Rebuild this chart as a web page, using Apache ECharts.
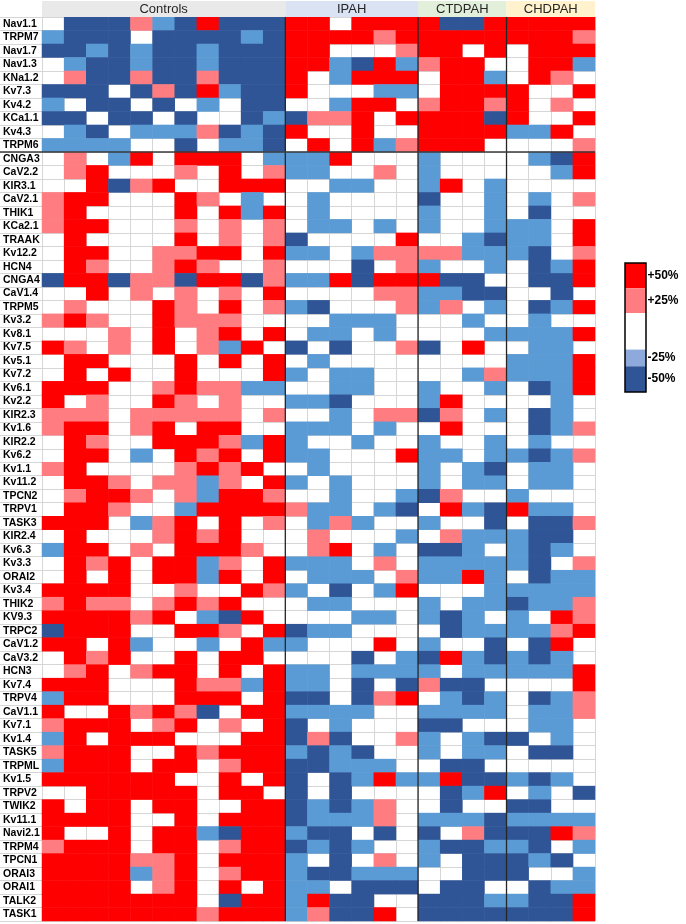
<!DOCTYPE html>
<html>
<head>
<meta charset="utf-8">
<script src="https://cdn.jsdelivr.net/npm/echarts@6/dist/echarts.min.js"></script>
<style>
html,body{margin:0;padding:0;background:#fff;}
#c{width:686px;height:924px;}
</style>
</head>
<body>
<div id="c"></div>
<script>
(function(){
// Scale: 2 = +50%, 1 = +25%, 0 = no change, -1 = -25%, -2 = -50%
const rowLabels = ['Nav1.1','TRPM7','Nav1.7','Nav1.3','KNa1.2','Kv7.3','Kv4.2','KCa1.1','Kv4.3','TRPM6',
'CNGA3','CaV2.2','KIR3.1','CaV2.1','THIK1','KCa2.1','TRAAK','Kv12.2','HCN4','CNGA4',
'CaV1.4','TRPM5','Kv3.2','Kv8.1','Kv7.5','Kv5.1','Kv7.2','Kv6.1','Kv2.2','KIR2.3',
'Kv1.6','KIR2.2','Kv6.2','Kv1.1','Kv11.2','TPCN2','TRPV1','TASK3','KIR2.4','Kv6.3',
'Kv3.3','ORAI2','Kv3.4','THIK2','KV9.3','TRPC2','CaV1.2','CaV3.2','HCN3','Kv7.4',
'TRPV4','CaV1.1','Kv7.1','Kv1.4','TASK5','TRPML','Kv1.5','TRPV2','TWIK2','Kv11.1',
'Navi2.1','TRPM4','TPCN1','ORAI3','ORAI1','TALK2','TASK1'];

const groupNames = ['Controls','IPAH','CTDPAH','CHDPAH'];
const legendLabels = ['+50%','+25%','','-25%','-50%'];
const legendValues = [2,1,0,-1,-2];

const controls = [
[0,-2,-2,-2,1,-1,-2,2,-2,-2,-2],
[-1,-2,-2,-2,0,-2,-2,-2,-2,-1,-2],
[-2,-2,-1,-2,-1,-2,-2,-1,-2,-2,-2],
[0,-1,-2,-2,-1,-2,-2,-1,-2,-2,-2],
[0,1,-2,-2,1,-2,-2,1,-2,-2,-2],
[-2,-2,-2,0,-2,1,-2,2,-1,-2,-2],
[-1,0,-2,-2,0,-2,0,-1,0,-2,-2],
[-2,-2,0,-2,-2,0,-2,0,0,-2,-1],
[0,-1,-2,0,-1,-1,-1,1,-2,-1,-2],
[-1,-1,-1,-1,0,0,-2,0,-1,-1,-2],
[0,1,0,-1,2,0,2,2,2,0,-1],
[0,1,2,0,0,0,1,0,2,0,1],
[0,0,2,-2,1,2,0,0,2,2,2],
[1,2,2,0,0,0,2,1,0,-1,0],
[1,2,0,0,0,0,2,0,2,-1,2],
[1,2,2,0,0,0,1,0,1,0,1],
[0,2,0,0,0,0,2,0,1,0,1],
[0,2,2,0,0,1,1,2,2,0,2],
[0,2,1,0,0,1,2,1,0,0,1],
[-2,2,2,-2,1,1,-2,2,2,-2,1],
[0,0,2,0,1,0,1,0,1,0,2],
[0,1,0,0,0,2,1,0,2,0,1],
[1,2,1,0,0,2,1,1,1,0,0],
[0,0,0,1,0,2,0,1,2,0,2],
[2,1,0,1,0,2,0,1,-1,2,0],
[0,2,2,0,0,0,2,0,2,0,2],
[0,2,0,2,0,0,2,0,0,0,2],
[2,2,2,0,0,1,2,1,1,-1,-1],
[2,0,1,0,0,2,1,0,1,0,0],
[1,1,1,0,1,1,1,1,1,0,1],
[1,2,2,0,1,2,0,2,2,0,0],
[0,2,1,0,0,2,2,2,1,-1,2],
[0,2,2,0,-1,0,2,1,2,0,2],
[1,2,0,0,0,0,1,2,1,2,0],
[0,2,2,1,0,1,1,-1,1,0,2],
[0,1,2,2,1,0,1,-1,2,2,1],
[0,2,2,1,0,0,-1,2,2,2,2],
[2,2,2,0,-1,1,2,0,2,0,1],
[0,2,0,0,0,1,2,1,2,0,0],
[-1,2,2,0,1,0,2,2,2,1,0],
[0,2,1,2,0,2,2,-1,1,0,2],
[0,2,0,2,0,2,2,-1,2,0,2],
[2,2,2,2,0,0,1,0,0,2,1],
[1,2,1,1,0,1,2,1,2,0,0],
[2,2,2,2,1,2,0,-1,-2,2,0],
[-2,2,2,2,0,0,2,2,1,0,2],
[2,2,0,2,-1,0,0,-1,0,2,-1],
[0,2,1,2,0,0,2,0,2,2,0],
[0,1,2,0,1,2,2,0,2,0,2],
[2,2,2,0,0,0,2,1,1,-1,2],
[-1,2,2,0,0,0,2,2,2,0,2],
[2,0,0,2,1,2,1,-2,0,2,2],
[1,2,2,2,0,1,2,0,1,0,2],
[-1,2,0,2,2,2,0,0,0,2,2],
[1,2,2,2,0,0,2,1,2,2,2],
[-1,2,2,2,0,2,2,0,1,2,2],
[2,2,2,2,2,2,0,0,2,0,2],
[0,0,2,2,2,2,2,0,2,2,0],
[2,0,2,2,0,2,2,0,0,2,2],
[2,2,2,2,0,0,2,0,2,2,2],
[2,0,0,2,0,2,2,-1,-2,2,2],
[1,2,2,2,0,2,2,0,1,2,2],
[2,2,2,2,1,1,2,0,2,2,2],
[2,2,2,2,-1,1,2,0,1,2,2],
[2,2,2,2,0,1,2,0,2,0,2],
[2,2,2,2,2,2,2,0,-2,2,2],
[2,2,2,2,2,2,2,1,2,2,2]
];

const ipah = [
[2,2,0,2,2,2],[2,2,2,2,1,2],[2,2,0,0,0,1],[2,2,-1,-2,2,-1],[2,0,-1,2,2,2],
[2,0,0,0,-1,-1],[0,0,-1,2,2,0],[-2,1,1,2,0,2],[2,0,0,2,0,0],[0,2,0,2,-1,1],
[-1,-1,2,0,0,0],[-1,-1,0,0,1,0],[0,0,-1,-1,0,0],[0,-1,0,0,0,0],[0,-1,0,0,0,0],
[0,-1,-1,0,-1,0],[-2,0,0,0,0,2],[-1,-1,0,-1,1,1],[0,0,0,-2,0,1],[-1,-1,2,-2,2,2],
[0,0,0,0,1,1],[-1,-2,0,0,0,1],[0,0,-1,-1,-1,0],[0,-1,-1,0,-1,0],[-2,0,-2,0,0,1],
[0,-1,0,0,0,0],[-1,0,-1,-1,0,0],[0,0,-1,-1,0,0],[-1,-1,-2,0,0,0],[0,0,-1,0,1,1],
[-1,-1,-1,0,-1,0],[-1,0,0,-1,0,0],[-1,-1,0,0,0,2],[0,-1,0,0,0,0],[-1,0,-1,0,0,0],
[0,0,-1,0,0,-1],[1,-1,-1,0,-1,-2],[0,-1,1,-1,0,0],[0,1,0,0,0,-1],[0,1,2,0,-1,0],
[-1,-1,-1,0,1,0],[0,-1,-1,-1,0,1],[-1,0,-2,0,-1,2],[0,-1,-1,0,0,0],[0,0,0,-1,-1,0],
[-2,-1,-1,0,0,0],[-1,0,0,0,2,0],[0,0,0,-2,0,-1],[-1,-1,0,-1,-1,-1],[-1,-1,0,-2,0,-2],
[-2,-2,0,-2,1,2],[-1,-1,-1,-1,0,0],[-2,0,-1,0,0,0],[-2,1,-2,0,0,1],[-1,-2,-1,-2,0,0],
[-2,-2,-1,-1,-1,0],[-2,0,-2,-1,2,-1],[-2,0,-2,0,0,0],[-2,-1,-2,-1,1,0],[-2,-1,-1,-1,1,0],
[-1,-2,-2,0,-2,0],[-2,-1,-2,-1,0,0],[-1,0,-2,0,1,0],[-1,-2,-2,-1,-1,-1],[-1,-1,0,-2,-2,-2],
[-1,2,-2,-2,0,0],[-1,1,-2,-2,2,0]
];

const ctdpah = [
[2,-2,-2,2],[2,2,2,2],[2,2,0,2],[1,2,2,0],[0,2,2,-1],
[0,2,2,2],[1,2,2,1],[2,2,2,-2],[2,2,2,2],[2,2,2,0],
[-1,0,0,0],[-1,0,0,0],[-1,2,0,-1],[-2,0,0,-1],[-1,0,0,-1],
[-1,0,0,-1],[0,0,-1,-2],[1,1,-1,-1],[-1,0,0,-1],[2,-2,-2,0],
[-1,-1,-2,-2],[-1,1,0,-1],[0,0,-1,0],[0,0,0,-1],[-2,0,2,0],
[0,0,0,0],[0,0,-1,1],[-1,0,0,-1],[-1,2,0,0],[-2,1,0,-1],
[0,2,0,0],[-1,0,0,-1],[-1,-1,0,-1],[-1,0,-1,-2],[-1,0,-1,-1],
[-2,1,0,0],[0,2,-1,-2],[-1,0,0,-2],[0,1,-1,-1],[-2,-2,-1,0],
[-1,-1,-1,-1],[-1,-1,2,-1],[0,0,0,-1],[-1,0,-1,-1],[-1,-2,-1,0],
[0,-2,-1,-1],[-1,0,0,-2],[-2,2,-1,-2],[-1,0,-1,-1],[1,-2,-2,0],
[0,-1,-2,-1],[-1,-1,-1,-1],[-2,-2,0,0],[-1,0,-1,-2],[-1,0,-1,-1],
[0,-2,-2,0],[-1,2,-2,-2],[0,-2,-1,2],[0,-2,0,0],[-1,-1,-1,-2],
[-2,0,1,-2],[-1,-2,-2,-1],[-1,0,-2,-2],[0,0,-2,-2],[0,-2,-2,0],
[-2,-2,-2,-1],[-2,-2,-2,-2]
];

const chdpah = [
[2,2,2,2],[2,2,2,1],[0,2,2,2],[0,2,2,-1],[0,2,1,0],
[2,0,0,2],[2,0,1,0],[2,0,0,2],[-1,-1,2,0],[0,0,0,1],
[0,-1,-2,2],[0,0,-1,2],[0,0,0,0],[0,-1,0,1],[0,-2,0,0],
[-1,-1,0,2],[-1,-1,0,2],[-1,-2,0,1],[0,-2,-1,2],[0,-2,-2,2],
[0,0,-2,0],[0,-2,-1,2],[0,-1,0,0],[-1,-1,-1,2],[0,-1,-1,0],
[-1,-1,-1,2],[-1,-1,-1,2],[0,-2,-1,2],[0,0,-1,0],[0,-2,-1,0],
[0,-2,-1,1],[0,-1,0,0],[-1,-2,-1,1],[0,-1,-1,0],[0,-1,-1,0],
[-1,0,0,0],[2,-1,-1,0],[0,-2,-2,1],[-1,-2,-2,0],[-1,-2,-1,0],
[-1,-2,0,1],[0,-2,-1,-1],[-1,-1,-1,-1],[-2,-1,-1,1],[-1,0,2,1],
[-1,-1,1,2],[0,-2,2,0],[-1,-2,-1,0],[-1,-1,-1,2],[0,0,0,2],
[0,-2,-1,1],[0,-1,-1,1],[0,-1,-1,0],[-2,0,-1,0],[0,-2,-2,0],
[0,0,0,0],[-1,-2,-1,0],[0,-1,0,-2],[-2,-2,0,0],[-1,-1,-1,-1],
[-2,-2,2,1],[-1,-2,0,-1],[-2,-1,-2,0],[-2,0,0,-1],[0,-2,-1,-1],
[-1,-2,-2,2],[-2,-2,-2,2]
];

const groups = [controls, ipah, ctdpah, chdpah];
const groupStarts = [];
const columns = [];
const data = [];
let offset = 0;
groups.forEach((g, gi) => {
  const n = g[0].length;
  groupStarts.push(offset);
  for (let c = 0; c < n; c++) columns.push(groupNames[gi] + ' ' + (c + 1));
  g.forEach((row, r) => {
    row.forEach((v, c) => data.push([offset + c, r, v]));
  });
  offset += n;
});
groupStarts.push(offset);

const cellColors = {'2':'#FF0000','1':'#FF7C80','0':'rgba(255,255,255,0)','-1':'#5B9BD5','-2':'#2F5597'};
const legendColors = ['#FF0000','#FF7C80','#FFFFFF','#8EA9DB','#2F5597'];
const headerColors = ['#E9E9E9','#DAE3F3','#E2EFDA','#FFF2CC'];

const chart = echarts.init(document.getElementById('c'), null, {renderer:'canvas'});
const gridLine = '#D6D6D6';
chart.setOption({
  animation: false,
  backgroundColor: '#ffffff',
  grid: {left: 42, right: 91, top: 17, bottom: 3, containLabel: false},
  xAxis: {
    type: 'category', data: columns, position: 'top',
    axisLabel: {show: false}, axisTick: {show: false}, axisLine: {show: false},
    splitLine: {show: true, interval: 0, lineStyle: {color: gridLine, width: 1}}
  },
  yAxis: {
    type: 'category', data: rowLabels, inverse: true,
    axisLabel: {interval: 0, margin: 39, align: 'left', fontFamily: 'Liberation Sans, Arial, sans-serif',
      fontWeight: 'bold', fontSize: 10.5, color: '#000'},
    axisTick: {show: true, interval: 0, length: 42, lineStyle: {color: gridLine}},
    axisLine: {show: true, lineStyle: {color: gridLine}},
    splitLine: {show: true, interval: 0, lineStyle: {color: gridLine, width: 1}}
  },
  visualMap: {
    type: 'piecewise', show: false, dimension: 2,
    pieces: legendValues.map(v => ({value: v, color: cellColors[String(v)]}))
  },
  series: [{
    type: 'heatmap', data: data,
    itemStyle: {borderWidth: 0},
    emphasis: {disabled: true},
    progressive: 0
  }]
});

// decorations derived from the axes
const p0 = chart.convertToPixel({gridIndex: 0}, [0, 0]);
const p1 = chart.convertToPixel({gridIndex: 0}, [1, 1]);
const bw = p1[0] - p0[0];
const rh = p1[1] - p0[1];
const colLeft = i => p0[0] - bw / 2 + i * bw;
const gTop = p0[1] - rh / 2;
const gBottom = gTop + rowLabels.length * rh;
const gRight = colLeft(columns.length);

const gfx = [];
groupNames.forEach((name, gi) => {
  const x0 = colLeft(groupStarts[gi]), x1 = colLeft(groupStarts[gi + 1]);
  gfx.push({type: 'rect', shape: {x: x0, y: 1, width: x1 - x0, height: gTop - 1},
    style: {fill: headerColors[gi]}, z: 11});
  gfx.push({type: 'text', x: (x0 + x1) / 2, y: (gTop + 1) / 2 + 0.5, z: 12,
    style: {text: name, fill: '#262626', font: '13px "Liberation Sans", Arial, sans-serif',
      textAlign: 'center', textVerticalAlign: 'middle'}});
});
for (let gi = 1; gi < groupNames.length; gi++) {
  const x = colLeft(groupStarts[gi]);
  gfx.push({type: 'line', shape: {x1: x, y1: gTop, x2: x, y2: gBottom},
    style: {stroke: '#262626', lineWidth: 1.3}, z: 20});
}
const ySep = gTop + 10 * rh;
gfx.push({type: 'line', shape: {x1: 0, y1: ySep, x2: gRight, y2: ySep},
  style: {stroke: '#3a3a3a', lineWidth: 1.5}, z: 20});

const lx = 625, ly = 263, lw = 21;
const lh = [25.3, 24.7, 36.6, 16.7, 25.7];
let yy = ly;
lh.forEach((h, i) => {
  gfx.push({type: 'rect', shape: {x: lx, y: yy, width: lw, height: h}, style: {fill: legendColors[i]}, z: 20});
  if (legendLabels[i]) {
    gfx.push({type: 'text', x: lx + lw + 1.5, y: yy + h / 2, z: 21,
      style: {text: legendLabels[i], fill: '#000', font: 'bold 12px "Liberation Sans", Arial, sans-serif',
        textVerticalAlign: 'middle', textAlign: 'left'}});
  }
  yy += h;
});
gfx.push({type: 'rect', shape: {x: lx, y: ly, width: lw, height: yy - ly},
  style: {fill: null, stroke: '#000', lineWidth: 1.5}, z: 22});

chart.setOption({graphic: gfx});
})();
</script>
</body>
</html>
